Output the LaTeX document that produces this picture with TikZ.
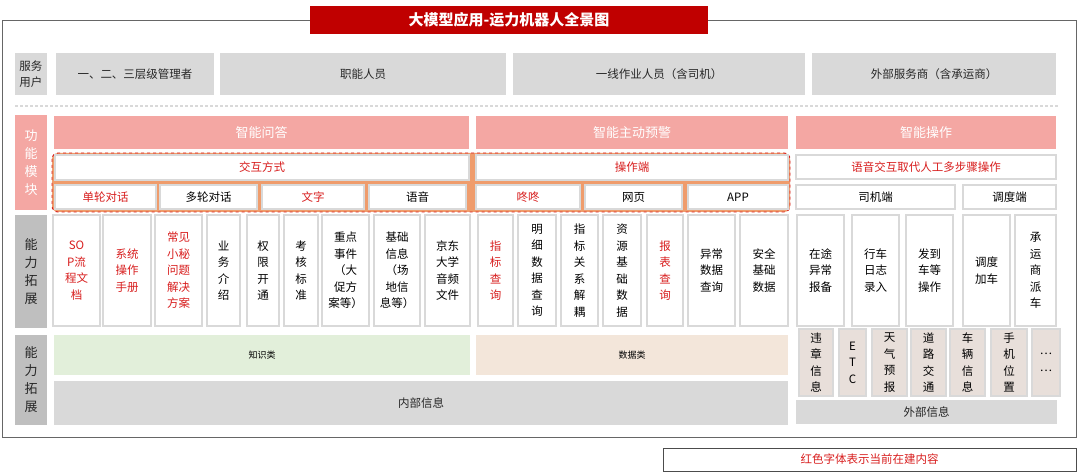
\documentclass[tikz,border=0pt]{standalone}
\usepackage{fontspec}
\setmainfont{Noto Sans CJK SC}
\definecolor{tred}{HTML}{C00000}
\definecolor{rt}{HTML}{D81E1E}
\definecolor{pk}{HTML}{F4A7A3}
\definecolor{lg}{HTML}{D9D9D9}
\definecolor{mg}{HTML}{BFBFBF}
\definecolor{gn}{HTML}{E2EFDA}
\definecolor{pc}{HTML}{F3E6DA}
\definecolor{ex}{HTML}{E8DFDA}
\definecolor{og}{HTML}{EF9C6C}
\newcommand\bx[7]{\node[#6,anchor=north west,minimum width=#4pt,minimum height=#5pt] (#1) at (#2,#3) {#7};}
\tikzset{
 base/.style={inner sep=0pt,outer sep=0pt,align=center,font=\fontsize{11.5}{16.5}\selectfont},
 gb/.style={base,fill=lg,text=black!85},
 lab/.style={base,fill=mg,text=black!85,font=\fontsize{13}{18}\selectfont},
 pb/.style={base,fill=pk,text=white,font=\fontsize{13}{16}\selectfont},
 wb/.style={base,fill=white,draw=lg,line width=1.5pt},
 eb/.style={base,fill=ex,draw=lg,line width=1.5pt},
 red/.style={text=rt},
}
\begin{document}
\begin{tikzpicture}[x=1pt,y=-1pt]
\useasboundingbox (0,0) rectangle (1080,476);
\draw[black!60,line width=0.8pt] (2,20) rectangle (1076,437);
\bx{title}{310}{6}{398}{28}{base,fill=tred,text=white,font=\fontsize{15}{17}\selectfont\bfseries}{大模型应用-运力机器人全景图}
% row users
\bx{fu}{15}{53}{32}{42}{gb}{服务\\用户}
\bx{u1}{56}{53}{158}{42}{gb}{一、二、三层级管理者}
\bx{u2}{220}{53}{286}{42}{gb}{职能人员}
\bx{u3}{513}{53}{292}{42}{gb}{一线作业人员（含司机）}
\bx{u4}{812}{53}{244}{42}{gb}{外部服务商（含承运商）}
\draw[lg,line width=1.5pt,dash pattern=on 3pt off 2pt] (15,106) -- (1058,106);
% labels
\bx{l1}{15}{115}{32}{95}{lab,fill=pk,text=white}{功\\能\\模\\块}
\bx{l2}{15}{215}{32}{113}{lab}{能\\力\\拓\\展}
\bx{l3}{15}{335}{32}{90}{lab}{能\\力\\拓\\展}
% modules
\bx{m1}{54}{116}{415}{33}{pb}{智能问答}
\bx{m2}{476}{116}{312}{33}{pb}{智能主动预警}
\bx{m3}{796}{116}{260}{33}{pb}{智能操作}
\draw[rt,fill=og,dashed,rounded corners=6pt,line width=0.9pt] (52,153) rectangle (790,212);
\bx{i1}{55}{155}{414}{25}{wb,red}{交互方式}
\bx{i2}{476}{155}{312}{25}{wb,red}{操作端}
\bx{a1}{55}{185}{101}{24}{wb,red}{单轮对话}
\bx{a2}{160}{185}{97}{24}{wb}{多轮对话}
\bx{a3}{262}{185}{102}{24}{wb,red}{文字}
\bx{a4}{369}{185}{97}{24}{wb}{语音}
\bx{a5}{476}{185}{104}{24}{wb,red}{咚咚}
\bx{a6}{585}{185}{97}{24}{wb}{网页}
\bx{a7}{688}{185}{100}{24}{wb}{APP}
\bx{o1}{796}{155}{260}{24}{wb,red}{语音交互取代人工多步骤操作}
\bx{o2}{796}{185}{159}{24}{wb}{司机端}
\bx{o3}{963}{185}{93}{24}{wb}{调度端}
% capability columns
\bx{c1}{53}{215}{47}{111}{wb,red}{SO\\P流\\程文\\档}
\bx{c2}{103}{215}{48}{111}{wb,red}{系统\\操作\\手册}
\bx{c3}{155}{215}{47}{111}{wb,red}{常见\\小秘\\问题\\解决\\方案}
\bx{c4}{207}{215}{33}{111}{wb}{业\\务\\介\\绍}
\bx{c5}{247}{215}{32}{111}{wb}{权\\限\\开\\通}
\bx{c6}{284}{215}{34}{111}{wb}{考\\核\\标\\准}
\bx{c7}{322}{215}{47}{111}{wb}{重点\\事件\\（大\\促方\\案等）}
\bx{c8}{374}{215}{46}{111}{wb}{基础\\信息\\（场\\地信\\息等）}
\bx{c9}{425}{215}{45}{111}{wb}{京东\\大学\\音频\\文件}
\bx{d1}{478}{215}{35}{111}{wb,red}{指\\标\\查\\询}
\bx{d2}{518}{215}{38}{111}{wb}{明\\细\\数\\据\\查\\询}
\bx{d3}{561}{215}{37}{111}{wb}{指\\标\\关\\系\\解\\耦}
\bx{d4}{603}{215}{38}{111}{wb}{资\\源\\基\\础\\数\\据}
\bx{d5}{647}{215}{36}{111}{wb,red}{报\\表\\查\\询}
\bx{d6}{688}{215}{47}{111}{wb}{异常\\数据\\查询}
\bx{d7}{740}{215}{48}{111}{wb}{安全\\基础\\数据}
\bx{e1}{797}{215}{47}{111}{wb}{在途\\异常\\报备}
\bx{e2}{852}{215}{47}{111}{wb}{行车\\日志\\录入}
\bx{e3}{906}{215}{47}{111}{wb}{发到\\车等\\操作}
\bx{e4}{963}{215}{47}{111}{wb}{调度\\加车}
\bx{e5}{1015}{215}{41}{111}{wb}{承\\运\\商\\派\\车}
% bottom
\bx{k1}{54}{335}{416}{40}{base,fill=gn,font=\fontsize{9}{10}\selectfont}{知识类}
\bx{k2}{476}{335}{312}{40}{base,fill=pc,font=\fontsize{9}{10}\selectfont}{数据类}
\bx{k3}{54}{381}{734}{44}{gb}{内部信息}
\bx{x1}{799}{329}{34}{67}{eb}{违\\章\\信\\息}
\bx{x2}{839}{329}{27}{67}{eb}{E\\T\\C}
\bx{x3}{872}{329}{35}{67}{eb}{天\\气\\预\\报}
\bx{x4}{911}{329}{35}{67}{eb}{道\\路\\交\\通}
\bx{x5}{950}{329}{35}{67}{eb}{车\\辆\\信\\息}
\bx{x6}{991}{329}{36}{67}{eb}{手\\机\\位\\置}
\bx{x7}{1032}{329}{28}{67}{eb}{…\\…}
\bx{k4}{796}{400}{261}{24}{gb}{外部信息}
\bx{lg}{663}{448}{413}{23}{base,draw=black!70,line width=0.6pt,red}{红色字体表示当前在建内容}
\end{tikzpicture}
\end{document}
